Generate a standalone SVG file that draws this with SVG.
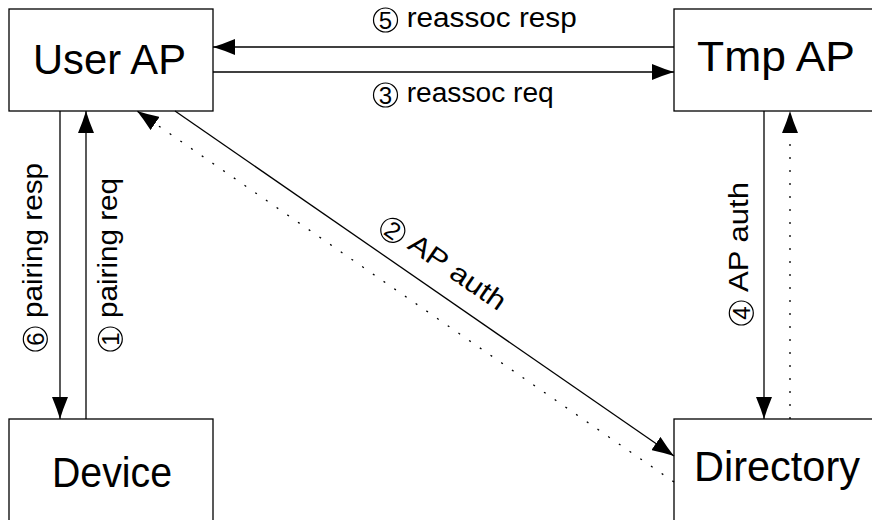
<svg xmlns="http://www.w3.org/2000/svg" width="872" height="520" viewBox="0 0 872 520">
<style>
.box{fill:#fff;stroke:#000;stroke-width:1.3}
.big{font-family:"Liberation Sans",Arial,sans-serif;font-size:43px;fill:#000}
.lbl{font-family:"Liberation Sans",Arial,sans-serif;font-size:27px;fill:#000}
.num{font-family:"Liberation Sans",Arial,sans-serif;font-size:24px;fill:#000;text-anchor:middle}
.circ{fill:none;stroke:#000;stroke-width:1.2}
.ln{fill:none;stroke:#000;stroke-width:1.3}
.dot{stroke-dasharray:2 11}
</style>
<defs>
<marker id="ah" markerUnits="userSpaceOnUse" viewBox="0 0 22 16" markerWidth="22" markerHeight="16" refX="22" refY="8" orient="auto">
<path d="M0,0 Q12,5 22,8 Q12,11 0,16 Z" fill="#000"/>
</marker>
</defs>
<rect width="872" height="520" fill="#fff"/>
<g id="user-ap"><rect class="box" x="9" y="9" width="204" height="102"/><text class="big" x="33" y="74" textLength="153" lengthAdjust="spacingAndGlyphs">User AP</text></g>
<g id="tmp-ap"><rect class="box" x="674" y="9" width="210" height="102"/><text class="big" x="697" y="71" textLength="158" lengthAdjust="spacingAndGlyphs">Tmp AP</text></g>
<g id="device"><rect class="box" x="9" y="419" width="204" height="110"/><text class="big" x="52" y="487" textLength="120" lengthAdjust="spacingAndGlyphs">Device</text></g>
<g id="directory"><rect class="box" x="674" y="419" width="210" height="110"/><text class="big" x="694" y="481" textLength="166" lengthAdjust="spacingAndGlyphs">Directory</text></g>
<g id="connectors">
<line class="ln" x1="674" y1="47" x2="213" y2="47" marker-end="url(#ah)"/>
<line class="ln" x1="213" y1="72" x2="674" y2="72" marker-end="url(#ah)"/>
<line class="ln" x1="60" y1="111" x2="60" y2="419" marker-end="url(#ah)"/>
<line class="ln" x1="86" y1="419" x2="86" y2="111" marker-end="url(#ah)"/>
<line class="ln" x1="764" y1="111" x2="764" y2="419" marker-end="url(#ah)"/>
<line class="ln dot" x1="790" y1="419" x2="790" y2="111" marker-end="url(#ah)"/>
<line class="ln" x1="175" y1="111" x2="674" y2="456" marker-end="url(#ah)"/>
<line class="ln dot" x1="674" y1="482" x2="137" y2="111" marker-end="url(#ah)"/>
</g>
<g id="label-5"><circle class="circ" cx="385.5" cy="20" r="12"/><text class="num" x="385.5" y="28.5">5</text><text class="lbl" x="406.7" y="26.7" textLength="170" lengthAdjust="spacingAndGlyphs">reassoc resp</text></g>
<g id="label-3"><circle class="circ" cx="385.5" cy="95" r="12"/><text class="num" x="385.5" y="103.5">3</text><text class="lbl" x="406.7" y="101.7" textLength="147" lengthAdjust="spacingAndGlyphs">reassoc req</text></g>
<g id="label-6" transform="translate(42,318) rotate(-90)"><circle class="circ" cx="-21" cy="-6.7" r="12"/><text class="num" x="-21" y="1.8">6</text><text class="lbl" x="0" y="0" textLength="155" lengthAdjust="spacingAndGlyphs">pairing resp</text></g>
<g id="label-1" transform="translate(117,318) rotate(-90)"><circle class="circ" cx="-21" cy="-6.7" r="12"/><text class="num" x="-21" y="1.8">1</text><text class="lbl" x="0" y="0" textLength="140" lengthAdjust="spacingAndGlyphs">pairing req</text></g>
<g id="label-4" transform="translate(748,292) rotate(-90)"><circle class="circ" cx="-21" cy="-6.7" r="12"/><text class="num" x="-21" y="1.8">4</text><text class="lbl" x="0" y="0" textLength="110" lengthAdjust="spacingAndGlyphs">AP auth</text></g>
<g id="label-2" transform="translate(175,111) rotate(34.66)"><circle class="circ" cx="247" cy="-25.7" r="12"/><text class="num" x="247" y="-17.2">2</text><text class="lbl" x="268" y="-19" textLength="112" lengthAdjust="spacingAndGlyphs">AP auth</text></g>
</svg>
